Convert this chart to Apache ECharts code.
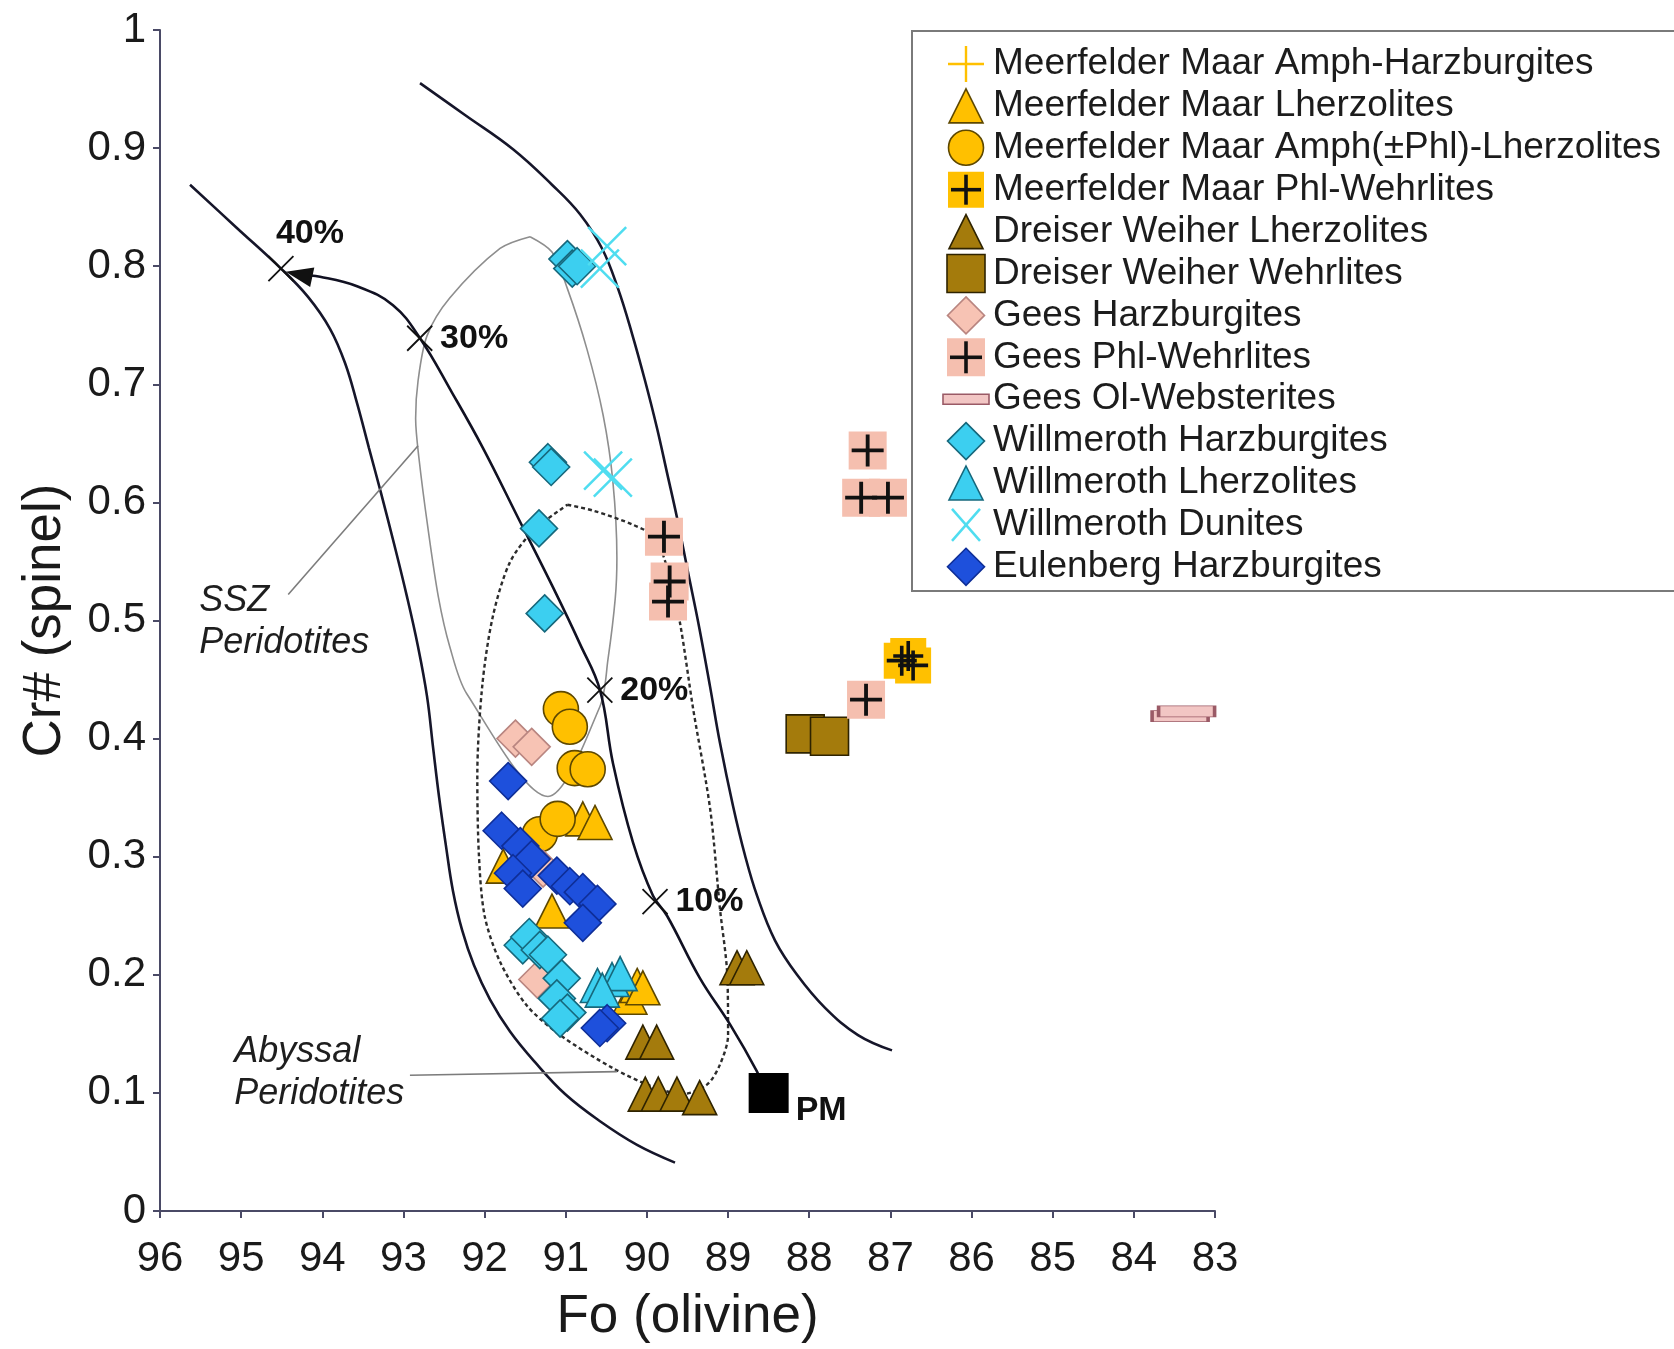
<!DOCTYPE html>
<html>
<head>
<meta charset="utf-8">
<title>Fo (olivine) vs Cr# (spinel)</title>
<script src="https://cdn.jsdelivr.net/npm/echarts@6/dist/echarts.min.js"></script>
<style>
  html, body { margin: 0; padding: 0; background: #ffffff; }
  #chart { width: 1674px; height: 1349px; }
</style>
</head>
<body>
<div id="chart"></div>
<script>
// ---- Samples: each point is [Fo in olivine, Cr# in spinel] ----
const meerfelderAmphHarz = [[90.15, 0.186]];
const meerfelderLherz = [[90.79, 0.332], [90.64, 0.329], [91.77, 0.292], [91.17, 0.254], [90.21, 0.181], [90.12, 0.191], [90.05, 0.189]];
const meerfelderAmphLherz = [[91.06, 0.425], [90.95, 0.410], [90.89, 0.375], [90.73, 0.374], [91.32, 0.319], [91.10, 0.332]];
const meerfelderPhlWehr = [[86.86, 0.466], [86.78, 0.470], [86.72, 0.462]];
const dreiserLherz = [[88.89, 0.206], [88.77, 0.206], [90.05, 0.143], [89.88, 0.143], [90.02, 0.099], [89.86, 0.099], [89.63, 0.099], [89.35, 0.096]];
const dreiserWehr = [[88.05, 0.404], [87.75, 0.402]];
const geesHarz = [[91.62, 0.400], [91.42, 0.393], [91.28, 0.290], [91.35, 0.196]];
const geesPhlWehr = [[89.79, 0.571], [89.72, 0.533], [89.74, 0.516], [87.28, 0.644], [87.36, 0.604], [87.03, 0.604], [87.30, 0.433]];
const geesOlWebst = [[83.43, 0.419], [83.35, 0.423]];
const willmerothHarz = [[90.98, 0.806], [90.92, 0.798], [90.86, 0.800], [91.22, 0.634], [91.18, 0.630], [91.33, 0.578], [91.26, 0.506],
  [91.53, 0.225], [91.45, 0.232], [91.32, 0.221], [91.22, 0.217], [91.05, 0.197], [91.11, 0.180], [90.98, 0.168], [91.07, 0.163]];
const willmerothLherz = [[90.61, 0.191], [90.43, 0.196], [90.33, 0.201], [90.55, 0.187]];
const willmerothDun = [[90.49, 0.817], [90.58, 0.798], [90.54, 0.627], [90.42, 0.621]];
const eulenbergHarz = [[91.71, 0.364], [91.79, 0.322], [91.56, 0.309], [91.42, 0.298], [91.65, 0.286], [91.53, 0.273], [91.11, 0.284],
  [90.95, 0.275], [90.79, 0.270], [90.61, 0.260], [90.79, 0.244], [90.49, 0.159], [90.58, 0.155]];
const primitiveMantle = [[88.5, 0.10]];

// ---- Reference fields and the melting trend ----
const olivineSpinelArrayLow = [[95.630, 0.869], [95.063, 0.833], [94.509, 0.798], [94.176, 0.774], [93.905, 0.747], [93.720, 0.718],
  [93.572, 0.684], [93.425, 0.646], [93.277, 0.608], [93.116, 0.565], [92.956, 0.520], [92.821, 0.478], [92.710, 0.436],
  [92.636, 0.393], [92.562, 0.351], [92.476, 0.309], [92.390, 0.271], [92.278, 0.238], [92.131, 0.208], [91.933, 0.179],
  [91.687, 0.152], [91.379, 0.126], [91.009, 0.099], [90.578, 0.076], [90.122, 0.056], [89.654, 0.041]];
const olivineSpinelArrayHigh = [[92.796, 0.955], [92.242, 0.928], [91.650, 0.899], [91.170, 0.869], [90.824, 0.844], [90.553, 0.815],
  [90.356, 0.781], [90.184, 0.743], [90.023, 0.703], [89.876, 0.663], [89.752, 0.625], [89.629, 0.587], [89.494, 0.541],
  [89.358, 0.495], [89.222, 0.444], [89.099, 0.396], [88.939, 0.343], [88.791, 0.301], [88.643, 0.267], [88.421, 0.229],
  [88.150, 0.200], [87.805, 0.172], [87.399, 0.149], [86.980, 0.136]];
const meltingTrend = [[88.582, 0.107], [88.643, 0.118], [88.976, 0.158], [89.346, 0.197], [89.752, 0.250], [89.925, 0.267],
  [90.171, 0.312], [90.418, 0.379], [90.578, 0.441], [90.824, 0.480], [91.157, 0.528], [91.588, 0.587], [92.020, 0.646],
  [92.402, 0.693], [92.796, 0.739], [93.129, 0.767], [93.572, 0.783], [94.028, 0.791], [94.287, 0.793]];
const sszField = [[91.44, 0.825], [91.17, 0.812], [90.98, 0.781], [90.74, 0.730], [90.54, 0.674], [90.42, 0.618], [90.37, 0.553], [90.39, 0.519],
  [90.48, 0.467], [90.58, 0.427], [91.22, 0.351], [92.22, 0.438], [92.43, 0.478], [92.57, 0.520], [92.70, 0.579], [92.81, 0.638],
  [92.85, 0.671], [92.82, 0.703], [92.71, 0.741], [92.43, 0.773], [91.81, 0.815], [91.44, 0.825]];
const abyssalField = [[90.98, 0.598], [90.66, 0.593], [90.17, 0.581], [89.90, 0.570], [89.72, 0.537], [89.59, 0.497], [89.43, 0.425], [89.22, 0.340],
  [89.10, 0.256], [89.01, 0.200], [89.00, 0.149], [89.10, 0.124], [89.26, 0.107], [89.56, 0.099], [89.92, 0.105], [90.42, 0.121],
  [91.07, 0.149], [91.48, 0.174], [91.81, 0.211], [92.00, 0.250], [92.07, 0.301], [92.09, 0.368], [92.03, 0.444], [91.90, 0.503],
  [91.69, 0.549], [91.40, 0.576], [90.98, 0.598]];
const sszLeader = [[94.42, 0.522], [92.82, 0.648]];
const abyssalLeader = [[92.92, 0.115], [90.37, 0.118]];

// degree of melting along the trend
const meltStepLabels = ['10%', '20%', '30%', '40%'];
const meltStepFo = [89.90, 90.58, 92.80, 94.51];
const meltStepCr = [0.262, 0.441, 0.739, 0.798];

// field names and their anchor (top-left of the text block)
const fieldNames = ['SSZ\nPeridotites', 'Abyssal\nPeridotites'];
const fieldNameFo = [95.51, 95.08];
const fieldNameCr = [0.534, 0.152];

// ---- Symbols ----
const PLUS_THIN = 'path://M14,0L16,0L16,30L14,30ZM0,14L30,14L30,16L0,16Z';
const PLUS_BOLD = 'path://M13.2,0L16.8,0L16.8,30L13.2,30ZM0,13.2L30,13.2L30,16.8L0,16.8Z';
const CROSS = 'path://M0,0L30,30M30,0L0,30';

const ORANGE = '#FFC000', ORANGE_EDGE = '#5E4800';
const BROWN = '#A47B0C', BROWN_EDGE = '#2E2300';
const PINK = '#F7C3B4', PINK_EDGE = '#B98580';
const CYAN = '#3CCFF0', CYAN_EDGE = '#16687C';
const BLUE = '#1E50DC', BLUE_EDGE = '#0E2E98';

// one entry per sample group: legend row + scatter style
const groups = [
  { name: 'Meerfelder Maar Amph-Harzburgites', data: meerfelderAmphHarz, shape: 'plusThin', size: 36, fill: ORANGE },
  { name: 'Meerfelder Maar Lherzolites', data: meerfelderLherz, shape: 'triangle', size: 34, fill: ORANGE, edge: ORANGE_EDGE },
  { name: 'Meerfelder Maar Amph(\u00B1Phl)-Lherzolites', data: meerfelderAmphLherz, shape: 'circle', size: 35, fill: ORANGE, edge: ORANGE_EDGE },
  { name: 'Meerfelder Maar Phl-Wehrlites', data: meerfelderPhlWehr, shape: 'rectPlus', size: 36, fill: ORANGE },
  { name: 'Dreiser Weiher Lherzolites', data: dreiserLherz, shape: 'triangle', size: 34, fill: BROWN, edge: BROWN_EDGE },
  { name: 'Dreiser Weiher Wehrlites', data: dreiserWehr, shape: 'rect', size: 38, fill: BROWN, edge: BROWN_EDGE },
  { name: 'Gees Harzburgites', data: geesHarz, shape: 'diamond', size: 37, fill: PINK, edge: PINK_EDGE },
  { name: 'Gees Phl-Wehrlites', data: geesPhlWehr, shape: 'rectPlus', size: 38, fill: '#F5BFAF' },
  { name: 'Gees Ol-Websterites', data: geesOlWebst, shape: 'bar', size: [56, 11], fill: '#F2C6C4', edge: '#9A5A66' },
  { name: 'Willmeroth Harzburgites', data: willmerothHarz, shape: 'diamond', size: 37, fill: CYAN, edge: CYAN_EDGE },
  { name: 'Willmeroth Lherzolites', data: willmerothLherz, shape: 'triangle', size: 34, fill: CYAN, edge: CYAN_EDGE },
  { name: 'Willmeroth Dunites', data: willmerothDun, shape: 'cross', size: 38, stroke: '#4FDDF0' },
  { name: 'Eulenberg Harzburgites', data: eulenbergHarz, shape: 'diamond', size: 37, fill: BLUE, edge: BLUE_EDGE }
];

function scatterSeriesFor(g) {
  const base = { type: 'scatter', name: g.name, data: g.data, z: 3, silent: true, animation: false };
  if (g.shape === 'plusThin') {
    return [Object.assign(base, { symbol: PLUS_THIN, symbolSize: g.size, itemStyle: { color: g.fill, opacity: 1 } })];
  }
  if (g.shape === 'cross') {
    return [Object.assign(base, { symbol: CROSS, symbolSize: g.size,
      itemStyle: { color: 'rgba(0,0,0,0)', borderColor: g.stroke, borderWidth: 2.5, opacity: 1 } })];
  }
  if (g.shape === 'rectPlus') {
    return [
      Object.assign(base, { symbol: 'rect', symbolSize: g.size, itemStyle: { color: g.fill, opacity: 1 } }),
      { type: 'scatter', name: g.name + ' (cross)', data: g.data, z: 3, silent: true, animation: false,
        symbol: PLUS_BOLD, symbolSize: g.size - 6, itemStyle: { color: '#111111', opacity: 1 } }
    ];
  }
  const sym = g.shape === 'bar' ? 'rect' : g.shape;
  return [Object.assign(base, { symbol: sym, symbolSize: g.size,
    itemStyle: { color: g.fill, borderColor: g.edge, borderWidth: 1.6, opacity: 1 } })];
}

// ---- Legend drawn as a graphic block ----
const LEGEND_X = 912, LEGEND_Y = 31, LEGEND_W = 800, LEGEND_H = 560;
const ROW0 = 64, ROW_STEP = 41.9, ICON_X = 966, TEXT_X = 993;

function iconFor(g, cx, cy) {
  const s = Array.isArray(g.size) ? g.size : [g.size, g.size];
  const w = s[0], h = s[1];
  const edgeStyle = { fill: g.fill, stroke: g.edge || null, lineWidth: g.edge ? 1.6 : 0 };
  const z = 101;
  switch (g.shape) {
    case 'triangle':
      return [{ type: 'polygon', z, shape: { points: [[cx, cy - h / 2], [cx + w / 2, cy + h / 2], [cx - w / 2, cy + h / 2]] }, style: edgeStyle }];
    case 'diamond':
      return [{ type: 'polygon', z, shape: { points: [[cx, cy - h / 2], [cx + w / 2, cy], [cx, cy + h / 2], [cx - w / 2, cy]] }, style: edgeStyle }];
    case 'circle':
      return [{ type: 'circle', z, shape: { cx, cy, r: w / 2 }, style: edgeStyle }];
    case 'rect':
      return [{ type: 'rect', z, shape: { x: cx - w / 2, y: cy - h / 2, width: w, height: h }, style: edgeStyle }];
    case 'bar':
      return [{ type: 'rect', z, shape: { x: cx - 23, y: cy - 5, width: 46, height: 10 }, style: edgeStyle }];
    case 'plusThin':
      return [
        { type: 'rect', z, shape: { x: cx - 1.2, y: cy - h / 2, width: 2.4, height: h }, style: { fill: g.fill } },
        { type: 'rect', z, shape: { x: cx - w / 2, y: cy - 1.2, width: w, height: 2.4 }, style: { fill: g.fill } }
      ];
    case 'rectPlus': {
      const p = w - 6;
      return [
        { type: 'rect', z, shape: { x: cx - w / 2, y: cy - h / 2, width: w, height: h }, style: { fill: g.fill } },
        { type: 'rect', z: z + 1, shape: { x: cx - 1.8, y: cy - p / 2, width: 3.6, height: p }, style: { fill: '#111' } },
        { type: 'rect', z: z + 1, shape: { x: cx - p / 2, y: cy - 1.8, width: p, height: 3.6 }, style: { fill: '#111' } }
      ];
    }
    case 'cross':
      return [
        { type: 'line', z, shape: { x1: cx - 14, y1: cy - 16, x2: cx + 14, y2: cy + 16 }, style: { stroke: g.stroke, lineWidth: 2.5 } },
        { type: 'line', z, shape: { x1: cx + 14, y1: cy - 16, x2: cx - 14, y2: cy + 16 }, style: { stroke: g.stroke, lineWidth: 2.5 } }
      ];
  }
  return [];
}

const legendGraphics = [{
  type: 'rect', z: 100,
  shape: { x: LEGEND_X, y: LEGEND_Y, width: LEGEND_W, height: LEGEND_H },
  style: { fill: '#ffffff', stroke: '#7a7a7a', lineWidth: 2 }
}];
groups.forEach((g, i) => {
  const cy = ROW0 + ROW_STEP * i;
  legendGraphics.push(...iconFor(g, ICON_X, cy));
  legendGraphics.push({
    type: 'text', z: 102,
    style: { text: g.name, x: TEXT_X, y: cy, fill: '#1c1c1c', align: 'left', verticalAlign: 'middle',
      font: '37px "Liberation Sans", Arial, sans-serif' }
  });
});

// ---- Series ----
const curveLine = (data, style, smooth) => ({
  type: 'line', data, showSymbol: false, symbol: 'none', smooth: smooth, z: 1, silent: true, animation: false,
  lineStyle: style
});

const series = [
  curveLine(olivineSpinelArrayLow, { color: '#16162a', width: 2.6 }, 0.4),
  curveLine(olivineSpinelArrayHigh, { color: '#16162a', width: 2.6 }, 0.4),
  curveLine(sszField, { color: '#8e8e8e', width: 1.6 }, 0.3),
  curveLine(abyssalField, { color: '#2c2c2c', width: 2.4, type: [4, 3] }, 0.3),
  curveLine(sszLeader, { color: '#7c7c7c', width: 1.6 }, false),
  curveLine(abyssalLeader, { color: '#7c7c7c', width: 1.6 }, false),
  curveLine(meltingTrend, { color: '#111122', width: 2.6 }, 0.4),
  {
    // arrow head at the end of the melting trend
    type: 'scatter', data: [meltingTrend[meltingTrend.length - 1]], symbol: 'triangle', symbolSize: [20, 27],
    symbolRotate: 78, itemStyle: { color: '#111', opacity: 1 }, z: 2, silent: true, animation: false
  },
  {
    type: 'scatter', z: 2, silent: true, animation: false,
    data: meltStepLabels.map((t, i) => ({
      name: t, value: [meltStepFo[i], meltStepCr[i]],
      label: t === '40%' ? { position: 'top', distance: 5, offset: [29, 0] } : { position: 'right', distance: 7 }
    })),
    symbol: CROSS, symbolSize: 25,
    itemStyle: { color: 'rgba(0,0,0,0)', borderColor: '#111', borderWidth: 1.8, opacity: 1 },
    label: { show: true, formatter: '{b}', color: '#111', fontWeight: 'bold', fontSize: 34,
      fontFamily: '"Liberation Sans", Arial, sans-serif' }
  },
  {
    type: 'scatter', z: 2, silent: true, animation: false,
    data: fieldNames.map((t, i) => ({ name: t, value: [fieldNameFo[i], fieldNameCr[i]] })),
    symbolSize: 1, itemStyle: { color: 'rgba(0,0,0,0)', opacity: 1 },
    label: { show: true, formatter: '{b}', position: [0, 0], align: 'left', verticalAlign: 'top',
      fontStyle: 'italic', fontSize: 36, lineHeight: 42, color: '#1e1e1e',
      fontFamily: '"Liberation Sans", Arial, sans-serif' }
  }
];
groups.forEach(g => series.push(...scatterSeriesFor(g)));
series.push({
  type: 'scatter', name: 'PM', data: primitiveMantle.map(p => ({ name: 'PM', value: p })), z: 4, silent: true, animation: false,
  symbol: 'rect', symbolSize: 40, itemStyle: { color: '#000', opacity: 1 },
  label: { show: true, formatter: '{b}', position: 'right', distance: 7, offset: [0, 18], color: '#111',
    fontWeight: 'bold', fontSize: 34, fontFamily: '"Liberation Sans", Arial, sans-serif' }
});

const axisFont = '"Liberation Sans", Arial, sans-serif';
const option = {
  animation: false,
  backgroundColor: '#ffffff',
  grid: { left: 160, right: 459, top: 30, bottom: 132, containLabel: false },
  xAxis: {
    type: 'value', min: 83, max: 96, interval: 1, inverse: true,
    name: 'Fo (olivine)', nameLocation: 'middle', nameGap: 80,
    nameTextStyle: { fontSize: 53, color: '#1a1a1a', fontFamily: axisFont },
    axisLine: { show: true, onZero: false, lineStyle: { color: '#4a4a66', width: 2 } },
    axisTick: { show: true, length: 7, lineStyle: { color: '#4a4a66', width: 2 } },
    axisLabel: { fontSize: 42, color: '#1a1a1a', margin: 27, fontFamily: axisFont },
    splitLine: { show: false }
  },
  yAxis: {
    type: 'value', min: 0, max: 1, interval: 0.1,
    name: 'Cr# (spinel)', nameLocation: 'middle', nameGap: 88,
    nameTextStyle: { fontSize: 53, color: '#1a1a1a', fontFamily: axisFont },
    axisLine: { show: true, onZero: false, lineStyle: { color: '#4a4a66', width: 2 } },
    axisTick: { show: true, length: 7, lineStyle: { color: '#4a4a66', width: 2 } },
    axisLabel: { fontSize: 42, color: '#1a1a1a', margin: 14, fontFamily: axisFont },
    splitLine: { show: false }
  },
  series,
  graphic: legendGraphics
};

const chart = echarts.init(document.getElementById('chart'), null, { renderer: 'canvas', width: 1674, height: 1349 });
chart.setOption(option);
</script>
</body>
</html>
